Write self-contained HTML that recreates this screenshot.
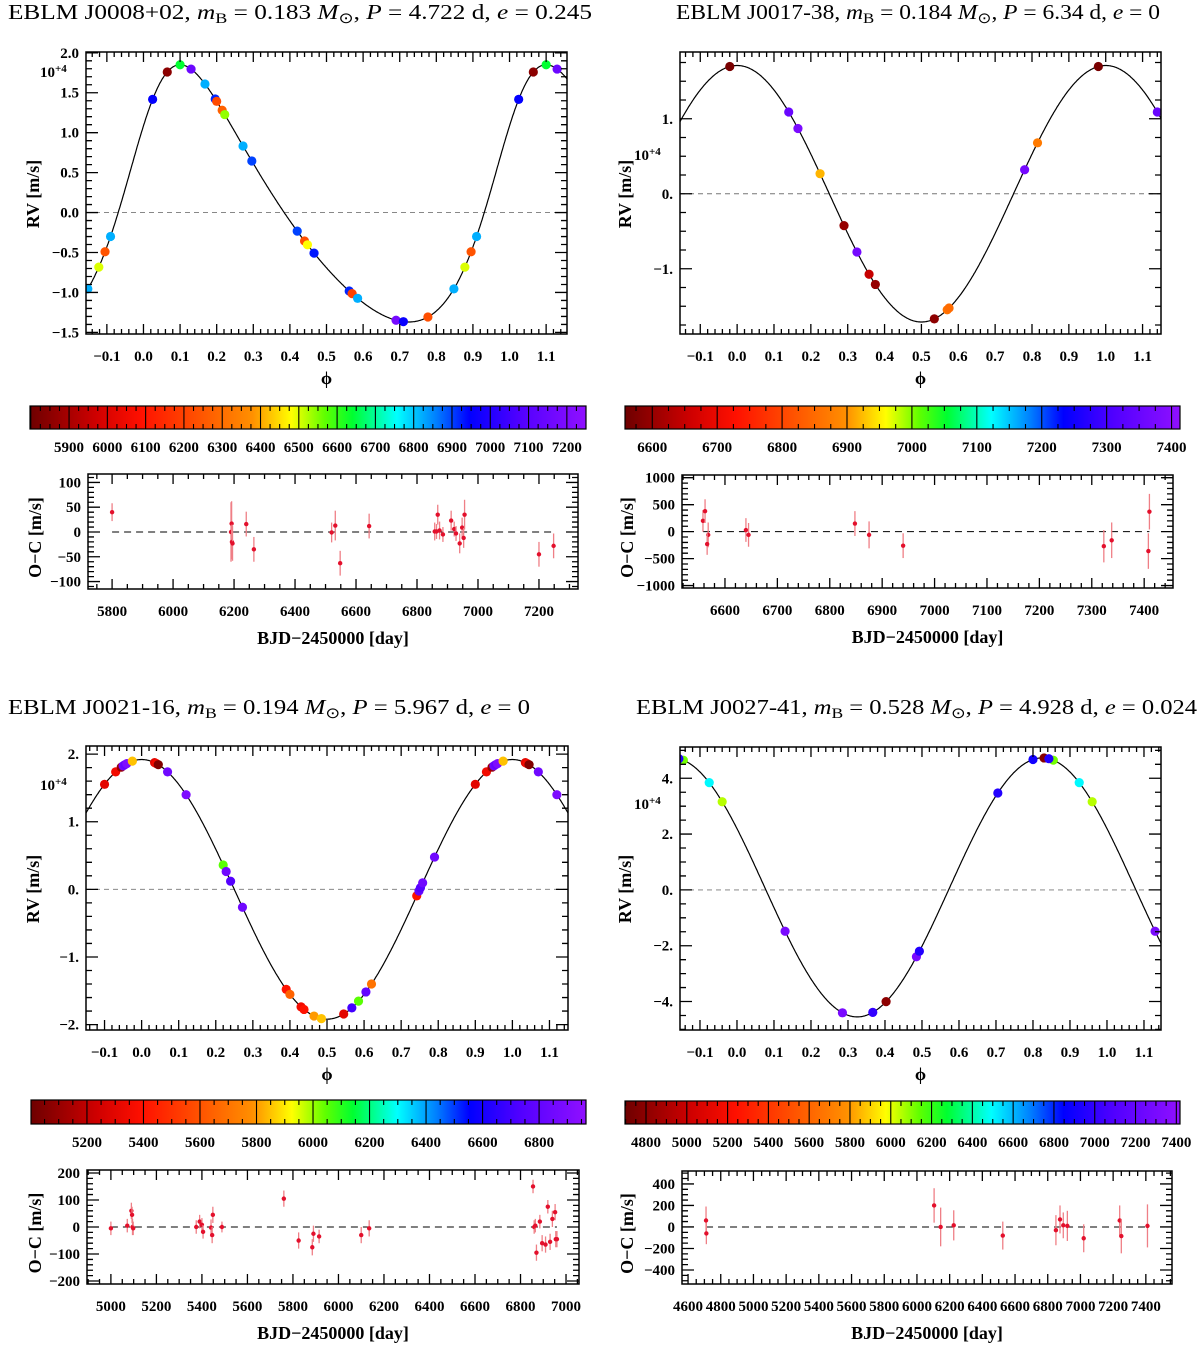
<!DOCTYPE html>
<html><head><meta charset="utf-8">
<style>
html,body{margin:0;padding:0;background:#fff;}
svg{display:block;font-family:"Liberation Serif",serif;}
.tl{font-weight:bold;font-size:15px;}
.al{font-weight:bold;font-size:18px;}
.tt{font-size:21px;}
</style></head>
<body>
<svg id="fig" width="1200" height="1349" viewBox="0 0 1200 1349" xmlns="http://www.w3.org/2000/svg">
<text class="tt" x="8" y="19" textLength="584" lengthAdjust="spacingAndGlyphs">EBLM J0008+02, <tspan font-style="italic">m</tspan><tspan font-size="15" dy="4">B</tspan><tspan dy="-4"> = 0.183 </tspan><tspan font-style="italic">M</tspan><tspan font-size="15" dy="4">⊙</tspan><tspan dy="-4">, </tspan><tspan font-style="italic">P</tspan> = 4.722 d, <tspan font-style="italic">e</tspan> = 0.245</text>
<text class="tt" x="676" y="19" textLength="484" lengthAdjust="spacingAndGlyphs">EBLM J0017-38, <tspan font-style="italic">m</tspan><tspan font-size="15" dy="4">B</tspan><tspan dy="-4"> = 0.184 </tspan><tspan font-style="italic">M</tspan><tspan font-size="15" dy="4">⊙</tspan><tspan dy="-4">, </tspan><tspan font-style="italic">P</tspan> = 6.34 d, <tspan font-style="italic">e</tspan> = 0</text>
<text class="tt" x="8" y="714" textLength="522" lengthAdjust="spacingAndGlyphs">EBLM J0021-16, <tspan font-style="italic">m</tspan><tspan font-size="15" dy="4">B</tspan><tspan dy="-4"> = 0.194 </tspan><tspan font-style="italic">M</tspan><tspan font-size="15" dy="4">⊙</tspan><tspan dy="-4">, </tspan><tspan font-style="italic">P</tspan> = 5.967 d, <tspan font-style="italic">e</tspan> = 0</text>
<text class="tt" x="636" y="714" textLength="561" lengthAdjust="spacingAndGlyphs">EBLM J0027-41, <tspan font-style="italic">m</tspan><tspan font-size="15" dy="4">B</tspan><tspan dy="-4"> = 0.528 </tspan><tspan font-style="italic">M</tspan><tspan font-size="15" dy="4">⊙</tspan><tspan dy="-4">, </tspan><tspan font-style="italic">P</tspan> = 4.928 d, <tspan font-style="italic">e</tspan> = 0.024</text>
</svg>
<script>
// ===== Data: J0008+02 =====
const p1Phase=[0.025,0.065,0.1,0.13,0.168,0.196,0.2,0.215,0.222,0.272,0.296,0.42,0.44,0.448,0.466,0.562,0.57,0.585,0.69,0.71,0.777,0.848,0.878,0.895,0.91];
const p1Time=[6950,5850,6640,7150,6820,6920,6220,6270,6540,6820,6900,6900,6230,6480,6930,6920,6200,6820,7180,6960,6230,6820,6500,6240,6820];
const p1OcT=[5800,6190,6192,6193,6195,6240,6265,6520,6532,6548,6643,6858,6864,6868,6874,6885,6912,6922,6928,6940,6948,6953,6956,7200,7248];
const p1OcV=[40,0,17,-20,-23,16,-35,-1,13,-63,12,1,1,35,3,-5,23,6,-3,-23,9,-12,35,-45,-28];
const p1OcE=[18,60,45,35,35,25,25,20,30,25,25,18,15,20,18,15,20,15,15,20,20,20,30,25,25];
// ===== Data: J0017-38 =====
const p2Phase=[0.98,0.14,0.165,0.225,0.29,0.325,0.358,0.375,0.535,0.57,0.575,0.78,0.815];
const p2Time=[6570,7350,7380,6920,6600,7370,6650,6600,6590,6860,6850,7370,6870];
const p2OcT=[6558,6562,6568,6566,6640,6645,6848,6875,6940,7323,7338,7410,7408];
const p2OcV=[200,380,-60,-230,30,-60,150,-60,-260,-270,-160,370,-360];
const p2OcE=[200,220,230,200,220,220,230,250,230,300,330,330,330];
// ===== Data: J0021-16 =====
const p3Phase=[0.9,0.93,0.945,0.95,0.955,0.96,0.975,0.035,0.04,0.045,0.07,0.12,0.22,0.228,0.24,0.272,0.39,0.4,0.43,0.438,0.465,0.485,0.545,0.567,0.585,0.605,0.62,0.742,0.748,0.752,0.758,0.79];
const p3Time=[5300,5350,5100,6850,6800,6900,5850,5300,5350,5050,6850,6900,6050,6850,6750,6850,5400,5650,5350,5400,5800,5850,5300,6700,6050,6800,5700,5400,6800,6750,6850,6850];
const p3OcT=[5000,5072,5090,5093,5095,5098,5375,5390,5400,5405,5440,5445,5448,5488,5760,5825,5885,5890,5915,6100,6135,6855,6860,6865,6870,6885,6895,6910,6920,6930,6940,6952,6955,6960];
const p3OcV=[-5,5,60,45,0,-5,0,20,8,-18,-2,-30,45,0,105,-50,-75,-25,-35,-30,-5,150,0,5,-95,20,-60,-65,75,-55,30,55,-45,-45];
const p3OcE=[25,25,30,30,30,25,25,25,25,25,30,30,30,20,30,30,30,30,25,30,30,25,25,25,30,25,30,30,25,30,30,30,30,30];
// ===== Data: J0027-41 =====
const p4Phase=[0.855,0.925,0.96,0.13,0.285,0.367,0.403,0.485,0.493,0.705,0.8,0.83,0.843];
const p4Time=[6120,6500,6050,7300,7300,7000,4800,7300,6950,6950,6900,4780,6950];
const p4OcT=[4710,4712,6105,6145,6225,6525,6850,6875,6895,6920,7020,7240,7250,7410];
const p4OcV=[60,-60,200,0,15,-80,-30,70,15,10,-105,60,-85,10];
const p4OcE=[130,100,160,180,140,130,140,130,120,140,130,140,160,200];

const NS='http://www.w3.org/2000/svg';
const svg=document.getElementById('fig');
function el(tag,parent){const e=document.createElementNS(NS,tag);parent.appendChild(e);return e;}
function at(e,o){for(const k in o)e.setAttribute(k,o[k]);return e;}
const STOPS=[[0,'#6e0000'],[0.12,'#d00000'],[0.2,'#ff1000'],[0.3,'#ff5000'],[0.4,'#ff9000'],[0.47,'#ffff00'],[0.53,'#60ff00'],[0.58,'#00ff30'],[0.66,'#00ffff'],[0.73,'#0080ff'],[0.79,'#0000ff'],[0.88,'#5000ff'],[1,'#9010ff']];
function hx(h){return [parseInt(h.substr(1,2),16),parseInt(h.substr(3,2),16),parseInt(h.substr(5,2),16)];}
function cmap(t){t=Math.max(0,Math.min(1,t));for(let i=1;i<STOPS.length;i++){if(t<=STOPS[i][0]){const a=STOPS[i-1],b=STOPS[i];const f=(t-a[0])/(b[0]-a[0]);const ca=hx(a[1]),cb=hx(b[1]);return 'rgb('+ca.map((v,j)=>Math.round(v+(cb[j]-v)*f)).join(',')+')';}}return STOPS[STOPS.length-1][1];}
function fmt(v,d){let s=d>=0?v.toFixed(d):(Math.round(v)+'.');if(d<0&&Math.abs(v)<1e-9)s='0.';if(d>=0&&Math.abs(v)<1e-9)s=(0).toFixed(d);return s.replace('-','−');}
function kep(phi,m,tp){const M=2*Math.PI*(phi-tp);let E=M;for(let i=0;i<15;i++)E=E-(E-m.e*Math.sin(E)-M)/(1-m.e*Math.cos(E));const nu=2*Math.atan2(Math.sqrt(1+m.e)*Math.sin(E/2),Math.sqrt(1-m.e)*Math.cos(E/2));const w=m.w*Math.PI/180;return m.K*(Math.cos(nu+w)+m.e*Math.cos(w))+m.gamma;}
function model(m){let best=-1e9,pm=0;for(let p=0;p<1;p+=0.0005){const v=kep(p,m,0);if(v>best){best=v;pm=p;}}const tp=m.phmax-pm;return p=>kep(p,m,tp);}
function ticks(g,b,xr,yr,xmaj,xmin,ymaj,ymin){
  const [x0,y0,x1,y1]=b;const X=v=>x0+(v-xr[0])/(xr[1]-xr[0])*(x1-x0);const Y=v=>y1-(v-yr[0])/(yr[1]-yr[0])*(y1-y0);
  let d='';
  for(let v=Math.ceil(xr[0]/xmin-1e-6)*xmin;v<=xr[1]+1e-9;v+=xmin){const maj=Math.abs(v/xmaj-Math.round(v/xmaj))<1e-4;const L=maj?10:5;const x=X(v);d+=`M${x},${y1}v${-L}M${x},${y0}v${L}`;}
  for(let v=Math.ceil(yr[0]/ymin-1e-6)*ymin;v<=yr[1]+1e-9;v+=ymin){const maj=Math.abs(v/ymaj-Math.round(v/ymaj))<1e-4;const L=maj?12:6;const y=Y(v);d+=`M${x0},${y}h${L}M${x1},${y}h${-L}`;}
  const p=el('path',g);at(p,{d:d,stroke:'#000','stroke-width':1.3,fill:'none'});
  
  
}
function text(g,x,y,s,cls,anchor){const t=el('text',g);at(t,{x:x,y:y,class:cls,'text-anchor':anchor||'middle'});t.textContent=s;return t;}

function drawPanel(id,C,phase,time,ocT,ocV,ocE){
  const g=el('g',svg);
  
  
  const [x0,y0,x1,y1]=C.rv;const xr=C.ph,yr=C.y;
  const X=v=>x0+(v-xr[0])/(xr[1]-xr[0])*(x1-x0);const Y=v=>y1-(v-yr[0])/(yr[1]-yr[0])*(y1-y0);
  const cp=el('clipPath',g);cp.id='clip-'+id;const cr=el('rect',cp);at(cr,{x:x0,y:y0,width:x1-x0,height:y1-y0});
  const z=el('line',g);at(z,{x1:x0,x2:x1,y1:Y(0),y2:Y(0),stroke:'#777','stroke-width':0.9,'stroke-dasharray':'5,4'});
  
  
  const f=model(C.m);let d='';
  for(let p=xr[0];p<=xr[1]+0.002;p+=0.002){d+=(d?'L':'M')+X(p).toFixed(1)+','+Y(f(p)).toFixed(1);}
  const cv=el('path',g);at(cv,{d:d,stroke:'#000','stroke-width':1.2,fill:'none','clip-path':'url(#clip-'+id+')'});
  
  
  for(let i=0;i<phase.length;i++){for(let k=-1;k<=1;k++){const q=phase[i]+k;if(q<xr[0]-0.005||q>xr[1]+0.005)continue;
    const c=el('circle',g);at(c,{cx:X(q),cy:Y(f(q)),r:4.6,fill:cmap((time[i]-C.cb.r[0])/(C.cb.r[1]-C.cb.r[0])),'clip-path':'url(#clip-'+id+')'});
    
    }}
  const bx=el('rect',g);at(bx,{x:x0,y:y0,width:x1-x0,height:y1-y0,fill:'none',stroke:'#000','stroke-width':1.5});
  
  
  ticks(g,C.rv,xr,yr,0.1,0.02,C.ymaj,C.ymin);
  for(let v=-0.1;v<=1.1001;v+=0.1){const t=text(g,X(v),y1+27,fmt(v,1),'tl');}
  for(const v of C.ylab){const t=text(g,x0-7,Y(v)+5,fmt(v,C.yd),'tl','end');}
  const ex=text(g,C.e4[0],C.e4[1],'10','tl','start');const sp=el('tspan',ex);at(sp,{dy:-5,'font-size':11});sp.textContent='+4';
  
  
  const yl=text(g,0,0,'RV [m/s]','al');at(yl,{transform:`translate(${C.rvl[0]},${C.rvl[1]}) rotate(-90)`});
  
  
  const xl=text(g,(x0+x1)/2,y1+50,'ϕ','al');xl.setAttribute('font-weight','normal');
  
  
  const gc=el('g',svg);
  
  
  const [c0,cy0,c1,cy1]=C.cb.b;const cr0=C.cb.r;const CX=v=>c0+(v-cr0[0])/(cr0[1]-cr0[0])*(c1-c0);
  const defs=el('defs',gc);const lg=el('linearGradient',defs);lg.id='grad-'+id;
  for(const s of STOPS){const st=el('stop',lg);at(st,{offset:s[0],'stop-color':s[1]});}
  const rr=el('rect',gc);at(rr,{x:c0,y:cy0,width:c1-c0,height:cy1-cy0,fill:'url(#grad-'+id+')',stroke:'#000','stroke-width':1.2});
  let cd='';const mj=C.cb.maj;
  for(let v=Math.ceil(cr0[0]/(mj/4))*(mj/4);v<cr0[1];v+=mj/4){const x=CX(v);if(Math.abs(v/mj-Math.round(v/mj))<1e-6)cd+=`M${x},${cy0}V${cy1}`;else cd+=`M${x},${cy0}v5M${x},${cy1}v-5`;}
  const cl=el('path',gc);at(cl,{d:cd,stroke:'#000','stroke-width':1.1,fill:'none'});
  for(const v of C.cb.lab){const t=text(gc,CX(v),cy1+23,String(v),'tl');if(C.cb.small)t.setAttribute('font-size','14');}
  const go=el('g',svg);
  
  
  const [o0,oy0,o1,oy1]=C.oc.b;const oxr=C.oc.x,oyr=C.oc.y;
  const OX=v=>o0+(v-oxr[0])/(oxr[1]-oxr[0])*(o1-o0);const OY=v=>oy1-(v-oyr[0])/(oyr[1]-oyr[0])*(oy1-oy0);
  const zl=el('line',go);at(zl,{x1:OX(Math.min(...ocT)),x2:OX(Math.max(...ocT)),y1:OY(0),y2:OY(0),stroke:'#000','stroke-width':1,'stroke-dasharray':'7,5'});
  
  
  for(let i=0;i<ocT.length;i++){
    const eb=el('line',go);at(eb,{x1:OX(ocT[i]),x2:OX(ocT[i]),y1:OY(ocV[i]-ocE[i]),y2:OY(ocV[i]+ocE[i]),stroke:'#ef7f86','stroke-width':1.3});
    
    
    const pt=el('circle',go);at(pt,{cx:OX(ocT[i]),cy:OY(ocV[i]),r:2.2,fill:'#e3102c'});
    
    
  }
  const ob=el('rect',go);at(ob,{x:o0,y:oy0,width:o1-o0,height:oy1-oy0,fill:'none',stroke:'#000','stroke-width':1.5});
  
  
  ticks(go,C.oc.b,oxr,oyr,C.oc.xmaj,C.oc.xmin,C.oc.ymaj,C.oc.ymin);
  for(const v of C.oc.xl){const t=text(go,OX(v),oy1+27,String(v),'tl');if(C.oc.small)t.setAttribute('font-size','13.5');}
  for(const v of C.oc.yl){const t=text(go,o0-7,OY(v)+5,fmt(v,0),'tl','end');}
  const oyl=text(go,0,0,'O−C [m/s]','al');at(oyl,{transform:`translate(${C.ocl[0]},${(oy0+oy1)/2+6}) rotate(-90)`});
  
  
  const oxl=text(go,(o0+o1)/2,oy1+55,'BJD−2450000 [day]','al');oxl.setAttribute('font-size','19');
  
  
}
function rng(a,b,s){const r=[];for(let v=a;v<=b+1e-9;v+=s)r.push(Math.round(v*1000)/1000);return r;}

drawPanel('j0008',{rv:[86,52,567,334],ph:[-0.157,1.157],y:[-1.52,2.01],ymaj:0.5,ymin:0.1,ylab:rng(-1.5,2,0.5),yd:1,
  m:{K:1.61,e:0.245,w:-52.5,phmax:0.1,gamma:0},e4:[40,77],rvl:[39,194],
  cb:{b:[30,406,586,429],r:[5798,7250],maj:100,lab:rng(5900,7200,100),small:true},
  oc:{b:[88,474,578,589],x:[5721,7328],y:[-115,117],xmaj:200,xmin:50,ymaj:50,ymin:10,xl:rng(5800,7200,200),yl:rng(-100,100,50)},ocl:[41]},
  p1Phase,p1Time,p1OcT,p1OcV,p1OcE);
drawPanel('j0017',{rv:[680,52,1161,334],ph:[-0.155,1.15],y:[-1.87,1.89],ymaj:1,ymin:0.25,ylab:[-1,0,1],yd:-1,
  m:{K:1.71,e:0,w:0,phmax:0,gamma:0},e4:[634,160],rvl:[631,194],
  cb:{b:[625,406,1180,429],r:[6558,7413],maj:100,lab:rng(6600,7400,100)},
  oc:{b:[682,475,1173,588],x:[6518,7455],y:[-1045,1050],xmaj:100,xmin:20,ymaj:500,ymin:100,xl:rng(6600,7400,100),yl:rng(-1000,1000,500)},ocl:[633]},
  p2Phase,p2Time,p2OcT,p2OcV,p2OcE);
drawPanel('j0021',{rv:[86,746,568,1030],ph:[-0.15,1.15],y:[-2.08,2.12],ymaj:1,ymin:0.2,ylab:[-2,-1,0,1,2],yd:-1,
  m:{K:1.92,e:0,w:0,phmax:0,gamma:0},e4:[40,790],rvl:[39,889],
  cb:{b:[31,1100,586,1124],r:[5002,6966],maj:200,lab:rng(5200,6800,200)},
  oc:{b:[87,1170,579,1284],x:[4895,7057],y:[-211,211],xmaj:200,xmin:50,ymaj:100,ymin:20,xl:rng(5000,7000,200),yl:rng(-200,200,100)},ocl:[41]},
  p3Phase,p3Time,p3OcT,p3OcV,p3OcE);
drawPanel('j0027',{rv:[680,747,1161,1030],ph:[-0.154,1.146],y:[-5.02,5.12],ymaj:2,ymin:0.5,ylab:[-4,-2,0,2,4],yd:-1,
  m:{K:4.64,e:0,w:0,phmax:0.825,gamma:0.09},e4:[634,809],rvl:[631,889],
  cb:{b:[625,1101,1180,1124],r:[4697,7418],maj:200,lab:rng(4800,7400,200),small:true},
  oc:{b:[682,1171,1172,1284],x:[4563,7560],y:[-530,520],xmaj:200,xmin:50,ymaj:200,ymin:50,xl:rng(4600,7400,200),yl:rng(-400,400,200),small:true},ocl:[633]},
  p4Phase,p4Time,p4OcT,p4OcV,p4OcE);
</script>
</body></html>
